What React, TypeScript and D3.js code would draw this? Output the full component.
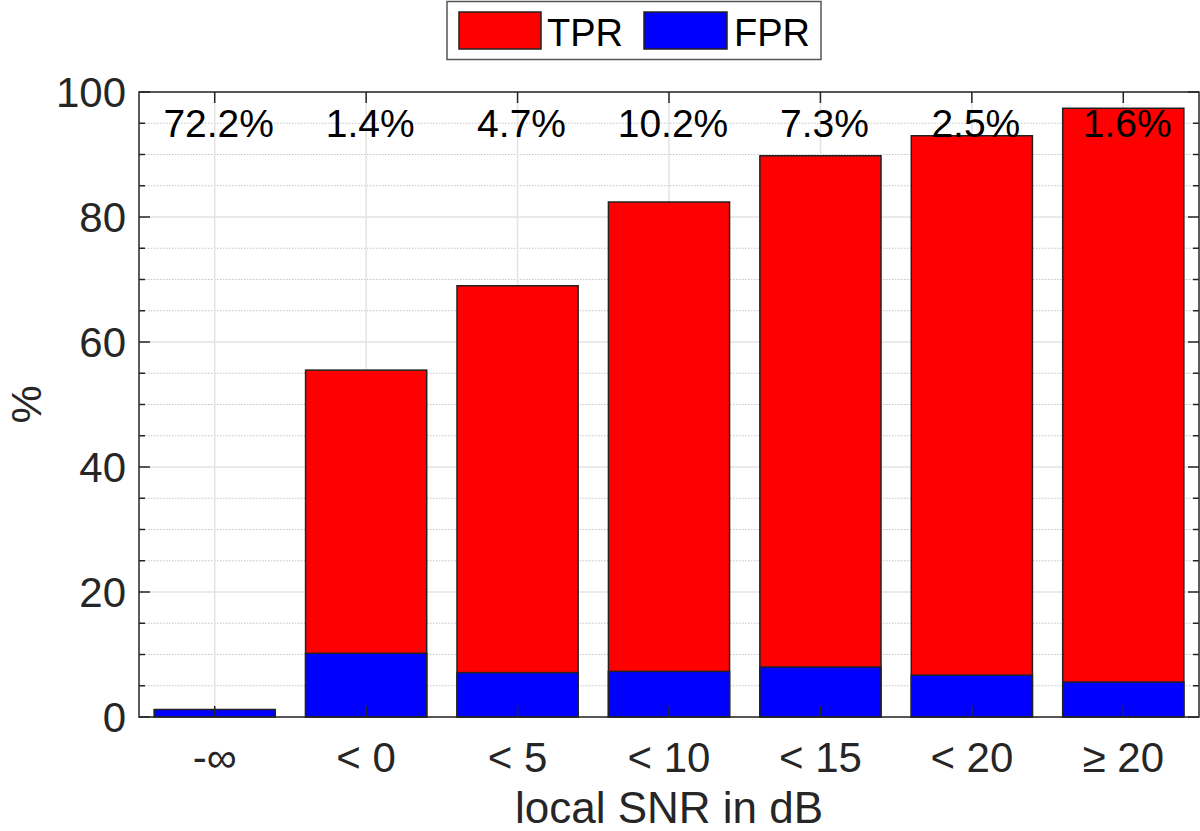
import React from 'react';
import * as d3 from 'd3';

const categories = ['-∞', '< 0', '< 5', '< 10', '< 15', '< 20', '≥ 20'];
const tprValues = [0, 55.5, 69.0, 82.4, 89.8, 93.0, 97.4];
const fprValues = [1.2, 10.2, 7.1, 7.3, 8.0, 6.7, 5.6];
const shareLabels = ['72.2%', '1.4%', '4.7%', '10.2%', '7.3%', '2.5%', '1.6%'];
const majorYTicks = [0, 20, 40, 60, 80, 100];

const W = 1200, H = 831;
const left = 139, right = 1199, top = 92, bottom = 717;
const font = '"Liberation Sans", Arial, Helvetica, sans-serif';
const axisColor = '#262626';

const App: React.FC = () => {
  const x = d3.scaleBand<string>()
    .domain(categories)
    .range([left, right])
    .paddingInner(0.2)
    .paddingOuter(0.1);
  const y = d3.scaleLinear().domain([0, 100]).range([bottom, top]);

  const minorTicks = y.ticks(20).filter(t => t % 20 !== 0);
  const centers = categories.map(c => (x(c) as number) + x.bandwidth() / 2);

  return (
    <svg width={W} height={H} style={{position: 'absolute', left: 0, top: 0, background: '#fff'}}
      fontFamily={font}>
      <rect x={left} y={top} width={right - left} height={bottom - top} fill="#fff" />

      {/* grid */}
      {minorTicks.map(t => (
        <line key={'mg' + t} x1={left} x2={right} y1={y(t)} y2={y(t)}
          stroke="#c4c4c4" strokeWidth={1} strokeDasharray="1.5,1.5" />
      ))}
      {majorYTicks.map(t => (
        <line key={'yg' + t} x1={left} x2={right} y1={y(t)} y2={y(t)}
          stroke="#e3e3e3" strokeWidth={1.5} />
      ))}
      {centers.map((cx, i) => (
        <line key={'xg' + i} x1={cx} x2={cx} y1={top} y2={bottom}
          stroke="#e3e3e3" strokeWidth={1.5} />
      ))}

      {/* TPR bars */}
      {categories.map((c, i) => tprValues[i] > 0 && (
        <rect key={'tpr' + i} x={x(c)} y={y(tprValues[i])} width={x.bandwidth()}
          height={bottom - y(tprValues[i])} fill="#ff0000" stroke="#222" strokeWidth={1.5} />
      ))}
      {/* FPR bars */}
      {categories.map((c, i) => (
        <rect key={'fpr' + i} x={x(c)} y={y(fprValues[i])} width={x.bandwidth()}
          height={bottom - y(fprValues[i])} fill="#0000ff" stroke="#222" strokeWidth={1.5} />
      ))}

      {/* axis box */}
      <rect x={left} y={top} width={right - left} height={bottom - top} fill="none"
        stroke={axisColor} strokeWidth={1.5} />

      {/* y ticks, both sides */}
      {majorYTicks.map(t => (
        <g key={'yt' + t}>
          <line x1={left} x2={left + 11} y1={y(t)} y2={y(t)} stroke={axisColor} strokeWidth={1.5} />
          <line x1={right} x2={right - 11} y1={y(t)} y2={y(t)} stroke={axisColor} strokeWidth={1.5} />
          <text x={left - 13} y={y(t)} dy="0.36em" textAnchor="end" fontSize={42} fill={axisColor}>{t}</text>
        </g>
      ))}
      {minorTicks.map(t => (
        <g key={'ym' + t}>
          <line x1={left} x2={left + 6} y1={y(t)} y2={y(t)} stroke={axisColor} strokeWidth={1.5} />
          <line x1={right} x2={right - 6} y1={y(t)} y2={y(t)} stroke={axisColor} strokeWidth={1.5} />
        </g>
      ))}

      {/* x ticks, top and bottom */}
      {centers.map((cx, i) => (
        <g key={'xt' + i}>
          <line x1={cx} x2={cx} y1={bottom} y2={bottom - 11} stroke={axisColor} strokeWidth={1.5} />
          <line x1={cx} x2={cx} y1={top} y2={top + 11} stroke={axisColor} strokeWidth={1.5} />
          <text x={cx} y={772} textAnchor="middle" fontSize={42} fill={axisColor}>{categories[i]}</text>
        </g>
      ))}

      {/* share labels */}
      {centers.map((cx, i) => (
        <text key={'sh' + i} x={cx + 4} y={137} textAnchor="middle" fontSize={39} fill="#000">
          {shareLabels[i]}
        </text>
      ))}

      {/* axis labels */}
      <text x={(left + right) / 2} y={823} textAnchor="middle" fontSize={44} fill={axisColor}>
        local SNR in dB
      </text>
      <text transform={`translate(41, ${(top + bottom) / 2}) rotate(-90)`} textAnchor="middle"
        fontSize={43} fill={axisColor}>%</text>

      {/* legend */}
      <rect x={447} y={1.5} width={374} height={58} fill="#fff" stroke="#555" strokeWidth={1.5} />
      <rect x={459} y={12} width={82} height={37} fill="#ff0000" stroke="#222" strokeWidth={1.5} />
      <text x={547} y={46} fontSize={38} fill="#000">TPR</text>
      <rect x={644} y={12} width={83} height={37} fill="#0000ff" stroke="#222" strokeWidth={1.5} />
      <text x={734} y={46} fontSize={38} fill="#000">FPR</text>
    </svg>
  );
};

export default App;
